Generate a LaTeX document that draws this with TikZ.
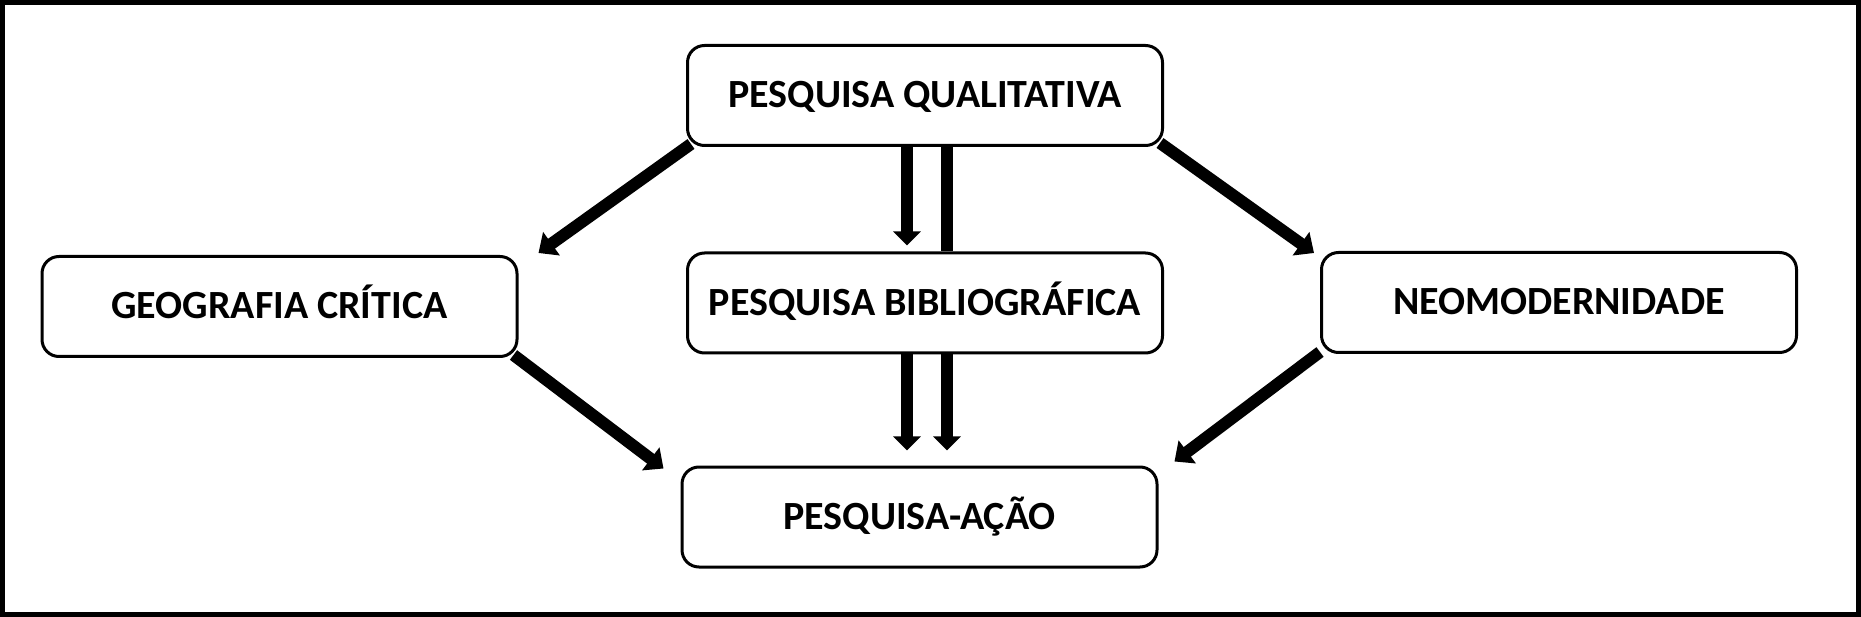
\documentclass[tikz,border=0pt]{standalone}
\usepackage{fontspec}
\setmainfont{Carlito}
\usetikzlibrary{arrows.meta,calc}
\begin{document}
\begin{tikzpicture}[x=1pt,y=-1pt,
  box/.style={draw, line width=3pt, rounded corners=17pt, inner sep=0pt,
    minimum width=475pt, minimum height=100pt,
    text height=25pt, text depth=0pt, font=\fontsize{40}{46}\selectfont\bfseries},
  arr/.style={line width=12pt, -{Triangle[width=28pt,length=16pt]}},
  varr/.style={line width=12pt, -{Triangle[width=27pt,length=14pt]}},
  vbar/.style={line width=12pt}]
\useasboundingbox (0,0) rectangle (1861,617);
\draw[line width=5pt] (2.5,2.5) rectangle (1858.5,614.5);
\node[box] (qa)  at (925,95.5)   {PESQUISA QUALITATIVA};
\node[box] (gc)  at (279.5,306.5) {GEOGRAFIA CRÍTICA};
\node[box] (pb)  at (925,303)    {PESQUISA BIBLIOGRÁFICA};
\node[box] (neo) at (1559,302.5) {NEOMODERNIDADE};
\node[box] (pa)  at (919.5,517)  {PESQUISA-AÇÃO};
% diagonal arrows
\draw[arr] ($(qa.south west)+(5,-3)$) -- ($(gc.north east)+(20,-2)$);
\draw[arr] ($(gc.south east)+(-5,-3)$) -- ($(pa.north west)+(-17,3)$);
\draw[arr] ($(qa.south east)+(-4,-4)$) -- ($(neo.north west)+(-6,2)$);
\draw[arr] ($(neo.south west)+(0,-2)$) -- ($(pa.north east)+(16,-4)$);
% vertical connectors
\coordinate (a1) at ($(qa.south)+(-18,0)$);
\coordinate (a2) at ($(qa.south)+(22,0)$);
\coordinate (b1) at ($(pb.south)+(-18,0)$);
\coordinate (b2) at ($(pb.south)+(22,0)$);
\draw[varr, shorten >=6pt] (a1) -- (a1 |- pb.north);
\draw[vbar] (a2) -- (a2 |- pb.north);
\draw[varr, shorten >=15pt] (b1) -- (b1 |- pa.north);
\draw[varr, shorten >=15pt] (b2) -- (b2 |- pa.north);
\end{tikzpicture}
\end{document}
